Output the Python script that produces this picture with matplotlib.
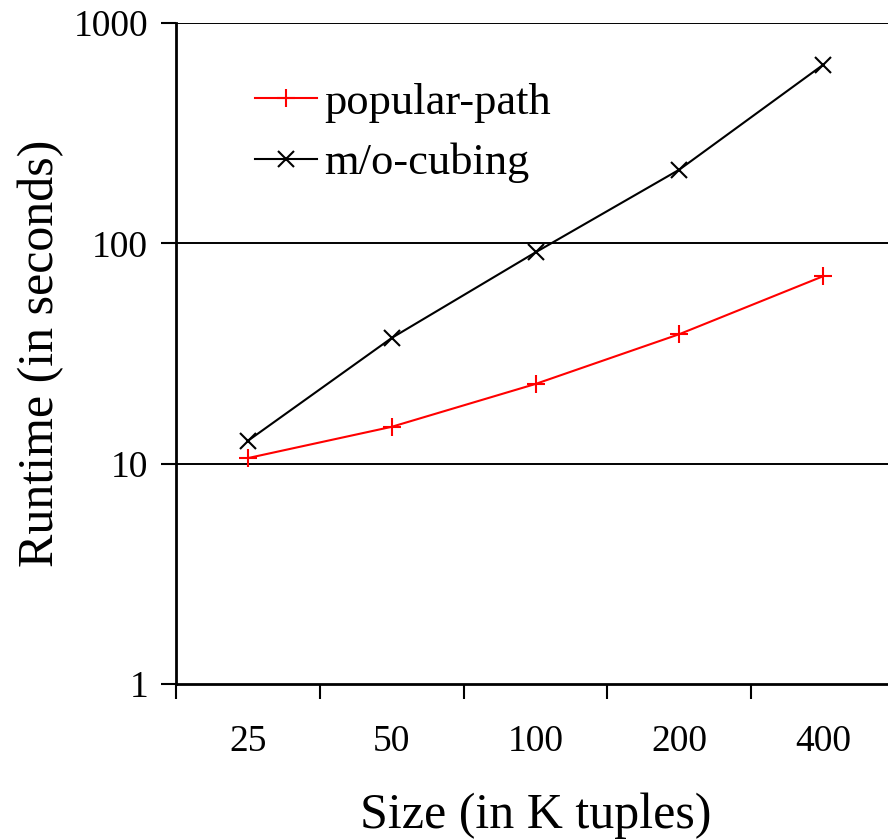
import matplotlib.pyplot as plt
import numpy as np

plt.rcParams['font.family'] = ['Liberation Serif', 'DejaVu Serif']

sizes = ['25', '50', '100', '200', '400']
popular_path = [10.6, 14.7, 23.0, 38.7, 70.9]
mo_cubing = [12.7, 37.2, 91.0, 216.0, 646.0]

fig = plt.figure(figsize=(8.88, 8.4), dpi=100)
ax = fig.add_axes([176 / 888, 1 - 684 / 840, (895 - 176) / 888, (684 - 23) / 840])

x = np.arange(len(sizes))
ax.plot(x, popular_path, color='red', lw=1.5, marker='+', ms=13, mew=1.5,
        label='popular-path', zorder=3)
ax.plot(x, mo_cubing, color='black', lw=1.5, marker='x', ms=12, mew=1.5,
        label='m/o-cubing', zorder=3)

ax.set_yscale('log')
ax.set_ylim(1, 1000)
ax.set_xlim(-0.5, 4.5)
ax.set_yticks([1, 10, 100, 1000])
ax.set_yticklabels(['1', '10', '100', '1000'])
ax.yaxis.set_minor_locator(plt.NullLocator())
ax.set_xticks(np.arange(-0.5, 4.6, 1.0))
ax.set_xticklabels([])
ax.set_xticks(x, minor=True)
ax.set_xticklabels(sizes, minor=True)
ax.tick_params(axis='x', which='minor', length=0, pad=29, labelsize=27)
ax.tick_params(axis='x', which='major', length=11, width=1.5, direction='out')
ax.tick_params(axis='y', length=11, width=1.5, direction='out', pad=9, labelsize=27)

for v in [10, 100, 1000]:
    ax.axhline(v, color='black', lw=1.4, zorder=1)

for side in ['top', 'right']:
    ax.spines[side].set_visible(False)
ax.spines['left'].set_linewidth(2)
ax.spines['bottom'].set_linewidth(2)

ax.set_xlabel('Size (in K tuples)', fontsize=36, labelpad=24)
ax.set_ylabel('Runtime (in seconds)', fontsize=36, labelpad=7)

ax.legend(loc='upper left', bbox_to_anchor=(0.110, 0.91), frameon=False,
          fontsize=32, handlelength=1.4, handletextpad=0.15, labelspacing=0.45,
          borderpad=0, borderaxespad=0)

fig.savefig('out.png', dpi=100)
